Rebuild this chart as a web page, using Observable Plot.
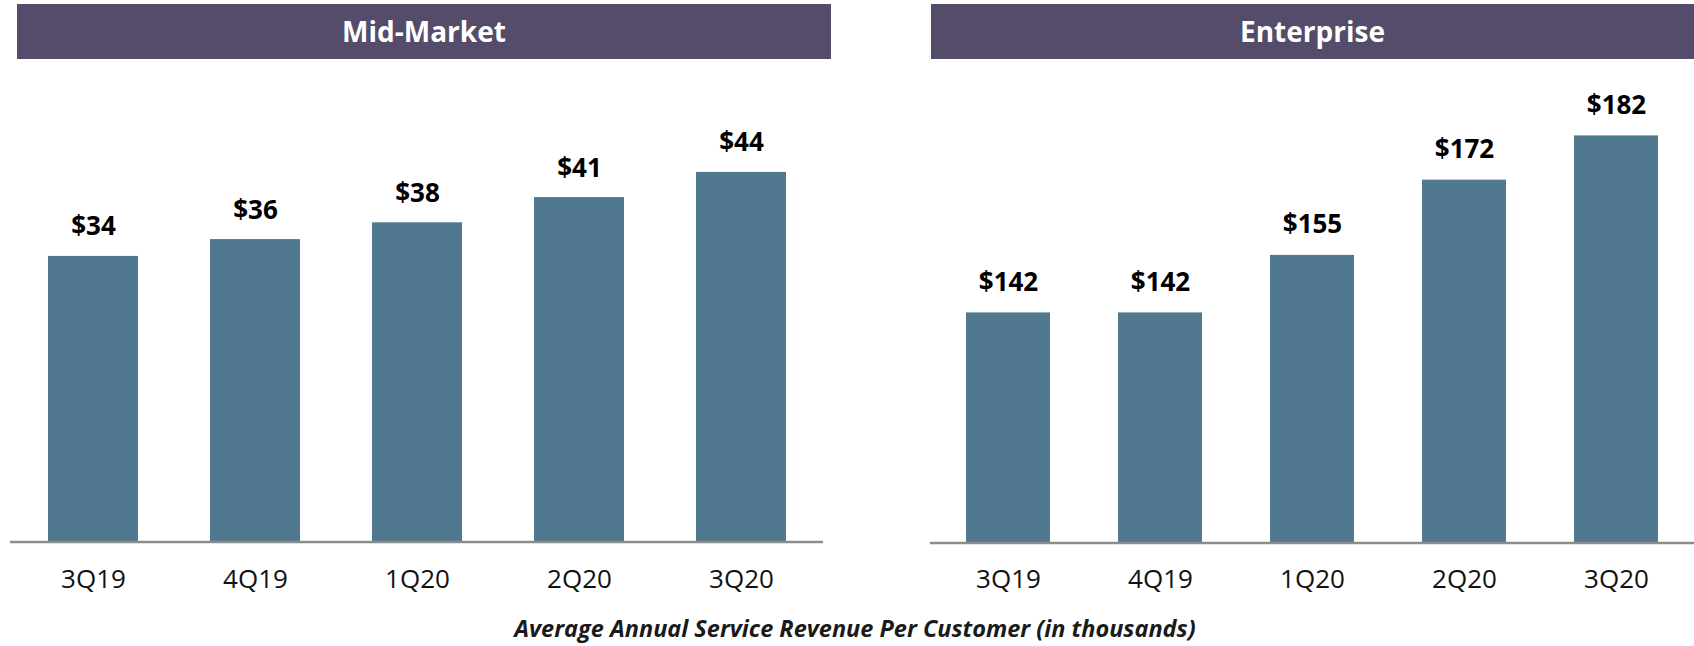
<!DOCTYPE html>
<html>
<head>
<meta charset="utf-8">
<script src="https://cdn.jsdelivr.net/npm/d3@7"></script>
<script src="https://cdn.jsdelivr.net/npm/@observablehq/plot@0.6"></script>
<style>
  html, body { margin: 0; padding: 0; background: #fff; }
  #page { position: relative; width: 1694px; height: 646px; overflow: hidden; font-family: "Open Sans", sans-serif; }
  .hdr { position: absolute; top: 4px; height: 55px; line-height: 55px; background: #554b6b; color: #fff;
         font-weight: bold; font-size: 28px; text-align: center; }
  .panel { position: absolute; top: 60px; }
  #foot { position: absolute; left: 405px; width: 900px; top: 617px; line-height: 23px; font-size: 23.5px;
          font-weight: bold; font-style: italic; text-align: center; color: #1a1a1a; white-space: nowrap; }
</style>
</head>
<body>
<div id="page"></div>
<script>
const quarters = ["3Q19", "4Q19", "1Q20", "2Q20", "3Q20"];
const midMarket = [34, 36, 38, 41, 44];
const enterprise = [142, 142, 155, 172, 182];
const panelTitles = ["Mid-Market", "Enterprise"];
const footnote = "Average Annual Service Revenue Per Customer (in thousands)";
const midMarketAxis = [0, 50];
const enterpriseAxis = [90, 190];

const barColor = "#50788e";
const axisColor = "#8c8c8c";
const page = document.getElementById("page");

function header(text, left, width) {
  const d = document.createElement("div");
  d.className = "hdr";
  d.style.left = left + "px";
  d.style.width = width + "px";
  d.textContent = text;
  page.appendChild(d);
}
header(panelTitles[0], 17, 814);
header(panelTitles[1], 931, 763);

function panel(values, yDomain, opts) {
  const data = quarters.map((q, i) => ({q, v: values[i]}));
  const chart = Plot.plot({
    width: 847,
    height: 560,
    marginLeft: opts.ml,
    marginRight: opts.mr,
    marginTop: opts.mt,
    marginBottom: opts.mb,
    style: {fontFamily: "'Open Sans', sans-serif", background: "transparent", color: "#111"},
    x: {domain: quarters, paddingInner: 0.446, paddingOuter: 0.223, label: null},
    y: {domain: yDomain, axis: null},
    marks: [
      Plot.barY(data, {x: "q", y1: yDomain[0], y2: "v", fill: barColor}),
      Plot.ruleY([yDomain[0]], {stroke: axisColor, strokeWidth: 2.5}),
      Plot.text(data, {x: "q", y: "v", text: d => "$" + d.v, lineAnchor: "bottom", dy: -opts.labelGap,
                       fontSize: 26, fontWeight: "bold", fill: "#000"}),
      Plot.axisX({tickSize: 0, tickPadding: opts.tp, fontSize: 26, label: null, fill: "#111"})
    ]
  });
  chart.classList.add("panel");
  chart.style.left = opts.left + "px";
  chart.style.position = "absolute";
  chart.style.top = "60px";
  page.appendChild(chart);
}

panel(midMarket, midMarketAxis, {left: 0, ml: 10, mr: 24, mt: 61.5, mb: 78.5, tp: 28, labelGap: 21});
panel(enterprise, enterpriseAxis, {left: 847, ml: 83, mr: 0, mt: 40, mb: 77.5, tp: 27, labelGap: 22});

const f = document.createElement("div");
f.id = "foot";
f.textContent = footnote;
page.appendChild(f);
</script>
</body>
</html>
